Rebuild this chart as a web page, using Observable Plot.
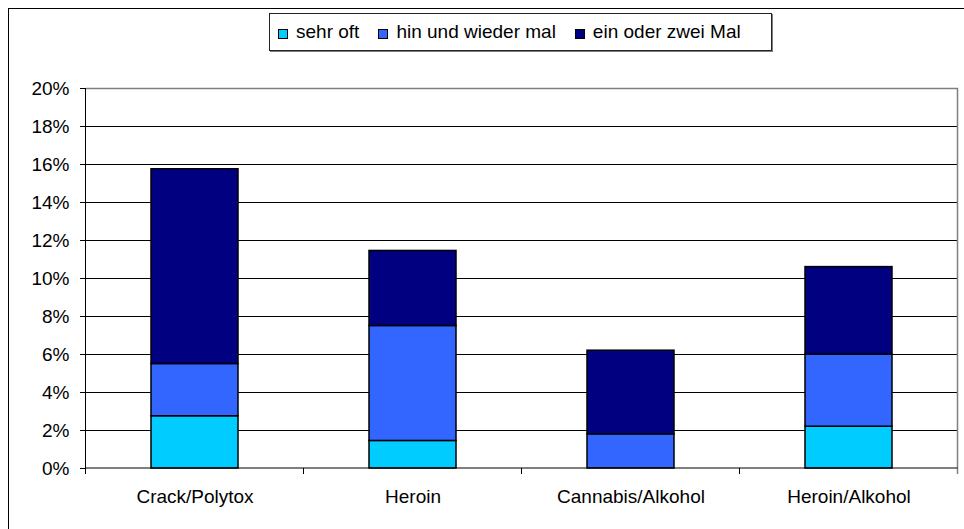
<!DOCTYPE html>
<html>
<head>
<meta charset="utf-8">
<script src="https://cdn.jsdelivr.net/npm/d3@7"></script>
<script src="https://cdn.jsdelivr.net/npm/@observablehq/plot@0.6"></script>
<style>
  html, body { margin: 0; padding: 0; background: #fff; overflow: hidden; }
  #wrap { position: relative; width: 964px; height: 529px; font-family: "Liberation Sans", Arial, sans-serif; }
  #outer { position: absolute; left: 8px; top: 8px; width: 1000px; height: 600px; border: 1.5px solid #000; box-sizing: border-box; pointer-events: none; }
  #legend { position: absolute; left: 269px; top: 13px; width: 503px; height: 38px; box-sizing: border-box;
            border: 1px solid #222; box-shadow: 1px 1px 0 #808080; background: #fff;
            display: flex; align-items: center; padding-left: 8px; font-size: 19px; color: #000; }
  .item { display: flex; align-items: center; margin-right: 19px; white-space: nowrap; }
  .sw { width: 8px; height: 8px; border: 1px solid #000; margin-right: 8px; margin-top: 3px; }
  #chart { position: absolute; left: 0; top: 0; }
</style>
</head>
<body>
<div id="wrap">
  <div id="chart"></div>
  <div id="outer"></div>
  <div id="legend"></div>
</div>
<script>
const categories = ["Crack/Polytox", "Heroin", "Cannabis/Alkohol", "Heroin/Alkohol"];
const series = ["sehr oft", "hin und wieder mal", "ein oder zwei Mal"];
const sehrOft = [2.75, 1.45, 0, 2.2];
const hinUndWiederMal = [2.75, 6.05, 1.8, 3.8];
const einOderZweiMal = [10.25, 3.95, 4.4, 4.6];
const seriesColors = ["#00CCFF", "#3366FF", "#000080"];
const yTicks = [0, 2, 4, 6, 8, 10, 12, 14, 16, 18, 20];

const seriesValues = [sehrOft, hinUndWiederMal, einOderZweiMal];
const rows = [];
categories.forEach((c, i) => {
  series.forEach((s, j) => {
    rows.push({category: c, series: s, value: seriesValues[j][i]});
  });
});

// axis lines & boundary ticks, positioned through the plot's own scales
function frameAndTicks(index, scales, values, dims) {
  const x = scales.x, y = scales.y;
  const step = x.step ? x.step() : (x(categories[1]) - x(categories[0]));
  const bw = x.bandwidth ? x.bandwidth() : step * 0.4;
  const gap = (step - bw) / 2;
  const y0 = y(0), yTop = y(20);
  const g = d3.create("svg:g");
  const bounds = categories.map(c => x(c) - gap);
  bounds.push(x(categories[categories.length - 1]) + bw + gap);
  g.append("line").attr("x1", bounds[bounds.length - 1]).attr("x2", bounds[bounds.length - 1])
    .attr("y1", yTop).attr("y2", y0 + 6).attr("stroke", "#808080").attr("stroke-width", 1.5);
  bounds.slice(1, -1).forEach(b => {
    g.append("line").attr("x1", b).attr("x2", b).attr("y1", y0).attr("y2", y0 + 6)
      .attr("stroke", "#000").attr("stroke-width", 1);
  });
  g.append("line").attr("x1", bounds[0]).attr("x2", bounds[0]).attr("y1", yTop).attr("y2", y0 + 6)
    .attr("stroke", "#000").attr("stroke-width", 1);
  g.append("line").attr("x1", bounds[0]).attr("x2", bounds[bounds.length - 1]).attr("y1", y0).attr("y2", y0)
    .attr("stroke", "#000").attr("stroke-width", 1);
  return g.node();
}

const plot = Plot.plot({
  width: 964,
  height: 529,
  marginLeft: 86,
  marginRight: 6,
  marginTop: 88,
  marginBottom: 61,
  style: {fontFamily: "'Liberation Sans', Arial, sans-serif", fontSize: "19px", color: "#000", background: "transparent"},
  x: {domain: categories, paddingInner: 0.6, paddingOuter: 0.3, label: null},
  y: {domain: [0, 20], label: null},
  color: {domain: series, range: seriesColors},
  marks: [
    Plot.ruleY(yTicks.filter(t => t > 0 && t < 20), {stroke: "#000", strokeWidth: 1}),
    Plot.ruleY([20], {stroke: "#808080", strokeWidth: 1.5}),
    Plot.barY(rows.filter(r => r.value > 0), {
      x: "category", y: "value", fill: "series", order: series,
      stroke: "#000", strokeWidth: 1.5
    }),
    frameAndTicks,
    Plot.axisY({ticks: yTicks, tickFormat: d => d + "%", tickSize: 6, tickPadding: 11, fontSize: 19, stroke: "#000"}),
    Plot.axisX({tickSize: 0, tickPadding: 21, fontSize: 19})
  ]
});

document.getElementById("chart").appendChild(plot);

const legend = document.getElementById("legend");
series.forEach((s, i) => {
  const item = document.createElement("div");
  item.className = "item";
  const sw = document.createElement("div");
  sw.className = "sw";
  sw.style.background = seriesColors[i];
  const t = document.createElement("span");
  t.textContent = s;
  item.appendChild(sw);
  item.appendChild(t);
  legend.appendChild(item);
});
</script>
</body>
</html>
